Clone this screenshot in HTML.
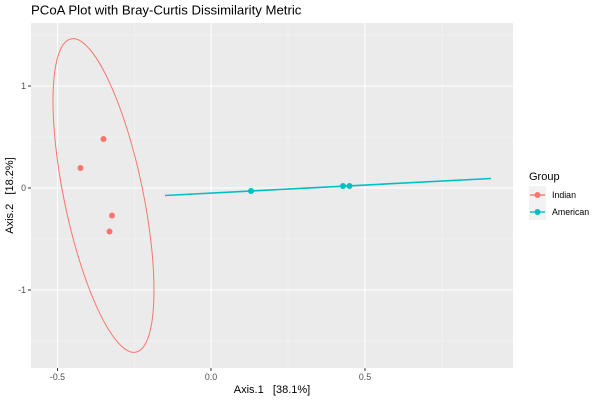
<!DOCTYPE html>
<html><head><meta charset="utf-8"><style>
body{margin:0;background:#fff;}
svg{display:block;font-family:"Liberation Sans",sans-serif;}
</style></head><body>
<svg width="600" height="400" viewBox="0 0 600 400">
<rect width="600" height="400" fill="#fff"/>
<text x="31" y="14.5" font-size="13.2" fill="#000">PCoA Plot with Bray-Curtis Dissimilarity Metric</text>
<rect x="31" y="23" width="482" height="345" fill="#ebebeb"/>
<g stroke="#f5f5f5" stroke-width="0.6">
<line x1="134.3" y1="23" x2="134.3" y2="368"/>
<line x1="288" y1="23" x2="288" y2="368"/>
<line x1="442" y1="23" x2="442" y2="368"/>
<line x1="31" y1="35" x2="513" y2="35"/>
<line x1="31" y1="137" x2="513" y2="137"/>
<line x1="31" y1="239" x2="513" y2="239"/>
<line x1="31" y1="341" x2="513" y2="341"/>
</g>
<g stroke="#fff" stroke-width="1.1">
<line x1="57.5" y1="23" x2="57.5" y2="368"/>
<line x1="211" y1="23" x2="211" y2="368"/>
<line x1="365" y1="23" x2="365" y2="368"/>
<line x1="31" y1="86" x2="513" y2="86"/>
<line x1="31" y1="188" x2="513" y2="188"/>
<line x1="31" y1="290" x2="513" y2="290"/>
</g>
<ellipse cx="103.5" cy="195.5" rx="160" ry="39.5" transform="rotate(78.3 103.5 195.5)" fill="none" stroke="#F8766D" stroke-width="1"/>
<g fill="#F8766D">
<circle cx="103.5" cy="139" r="3"/><circle cx="80.5" cy="168" r="3"/><circle cx="112" cy="215.5" r="3"/><circle cx="109.5" cy="231.5" r="3"/>
</g>
<line x1="165" y1="195.5" x2="491" y2="178.5" stroke="#00BFC4" stroke-width="1.6"/>
<g fill="#00BFC4">
<circle cx="251" cy="191" r="3"/><circle cx="343" cy="186" r="3"/><circle cx="349.5" cy="186" r="3"/>
</g>
<g stroke="#333" stroke-width="1">
<line x1="28" y1="86" x2="31" y2="86"/><line x1="28" y1="188" x2="31" y2="188"/><line x1="28" y1="290" x2="31" y2="290"/>
<line x1="57.5" y1="368" x2="57.5" y2="371"/><line x1="211" y1="368" x2="211" y2="371"/><line x1="365" y1="368" x2="365" y2="371"/>
</g>
<g font-size="8.8" fill="#4d4d4d">
<text x="26" y="89" text-anchor="end">1</text>
<text x="26" y="191" text-anchor="end">0</text>
<text x="26" y="293" text-anchor="end">-1</text>
<text x="57.5" y="380" text-anchor="middle">-0.5</text>
<text x="211" y="380" text-anchor="middle">0.0</text>
<text x="365" y="380" text-anchor="middle">0.5</text>
</g>
<text x="272" y="393" font-size="11" text-anchor="middle" fill="#000">Axis.1&#160;&#160;&#160;[38.1%]</text>
<text transform="translate(13,195.5) rotate(-90)" font-size="11" text-anchor="middle" fill="#000">Axis.2&#160;&#160;&#160;[18.2%]</text>
<text x="529" y="180" font-size="11" fill="#000">Group</text>
<rect x="529" y="186" width="17" height="34" fill="#f2f2f2"/>
<line x1="530" y1="195" x2="545" y2="195" stroke="#F8766D" stroke-width="1.4"/>
<circle cx="537.5" cy="195" r="3" fill="#F8766D"/>
<line x1="530" y1="212" x2="545" y2="212" stroke="#00BFC4" stroke-width="1.4"/>
<circle cx="537.5" cy="212" r="3" fill="#00BFC4"/>
<text x="552" y="198" font-size="8.8" fill="#000">Indian</text>
<text x="552" y="215" font-size="8.8" fill="#000">American</text>
</svg>
</body></html>
